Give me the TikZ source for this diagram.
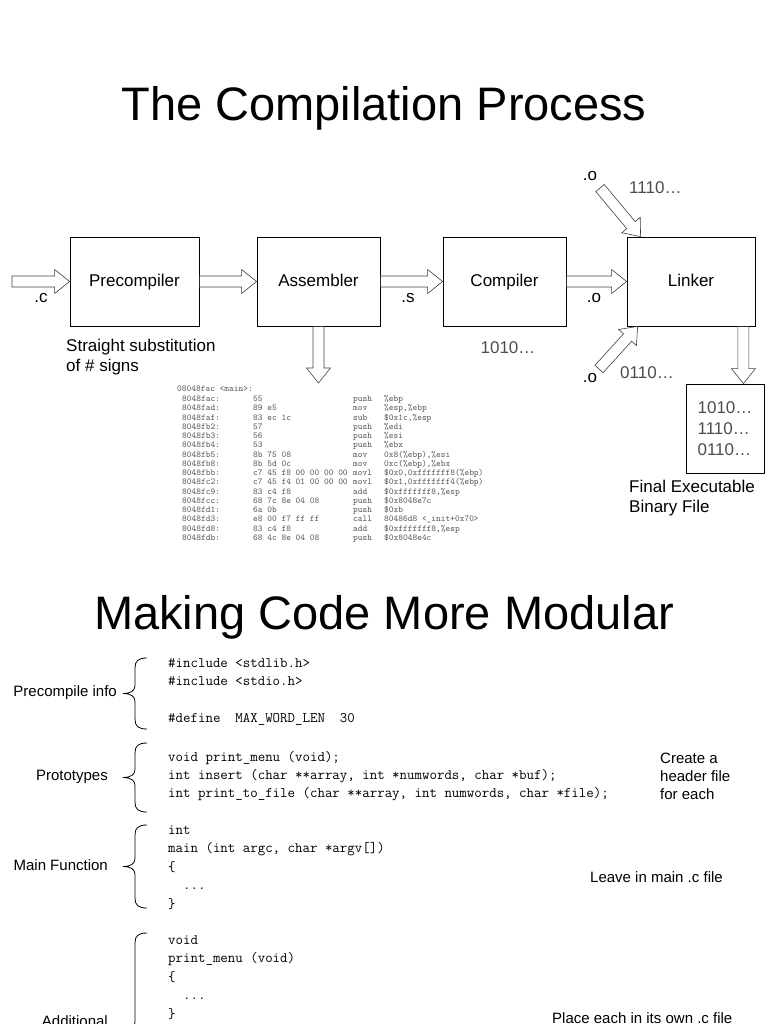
\documentclass[tikz,border=0pt]{standalone}
\usepackage{fontspec}
\setmainfont{Liberation Sans}
\usetikzlibrary{calc}
\tikzset{
  stage/.style={draw, line width=0.8pt, inner sep=0pt, minimum height=89pt,
    text height=12.5pt, text depth=3.5pt, font=\fontsize{17}{20}\selectfont},
  outbox/.style={draw, line width=0.8pt, inner sep=0pt, minimum height=89pt,
    minimum width=78pt, align=left, text=black!70, font=\fontsize{17}{21}\selectfont},
  blockarr/.style={draw=black!75, line width=0.6pt},
  lbl/.style={inner sep=0pt, align=left, font=\fontsize{17}{20.5}\selectfont},
  bits/.style={lbl, text=black!70},
  heading/.style={inner sep=0pt, font=\fontsize{47}{56}\selectfont},
  note/.style={inner sep=0pt, align=left, font=\fontsize{15}{18}\selectfont},
  asmtxt/.style={inner sep=0pt, anchor=base west, text=black!65,
    font=\ttfamily\fontsize{9}{9}\selectfont},
  code/.style={inner sep=0pt, anchor=base west, align=left,
    font=\ttfamily\fontsize{14.5}{18.4}\selectfont},
  brline/.style={line width=0.8pt},
}
% hollow block arrow from #1 to #2
\newcommand{\blockarrow}[2]{%
  \coordinate (ba-base) at ($(#2)!15pt!(#1)$);
  \draw[blockarr] ($(#1)!5.5pt!90:(#2)$) -- ($(ba-base)!5.5pt!-90:(#1)$)
    -- ($(ba-base)!12pt!-90:(#1)$) -- (#2) -- ($(ba-base)!12pt!90:(#1)$)
    -- ($(ba-base)!5.5pt!90:(#1)$) -- ($(#1)!5.5pt!-90:(#2)$) -- cycle;}
% curly brace in front of a code block, top y and bottom y
\newcommand{\codebrace}[2]{%
  \pgfmathsetmacro{\brmid}{(#1+#2)/2}
  \draw[brline] (147,#1) .. controls (138,#1) and (135,{#1+3}) .. (135,{#1+10})
    -- (135,{\brmid-8}) .. controls (135,{\brmid-3}) and (131,\brmid) .. (123,\brmid)
    .. controls (131,\brmid) and (135,{\brmid+3}) .. (135,{\brmid+8})
    -- (135,{#2-10}) .. controls (135,{#2-3}) and (138,#2) .. (147,#2);}

\begin{document}
\begin{tikzpicture}[x=1pt,y=-1pt]
  \useasboundingbox (0,0) rectangle (768,1024);
  \clip (0,0) rectangle (768,1024);

  \node[heading] (title1) at (384,108) {The Compilation Process};

  % stages
  \node[stage, minimum width=129pt] (pre) at (134.5,281.5) {Precompiler};
  \node[stage, minimum width=123pt] (asm) at (318.5,281.5) {Assembler};
  \node[stage, minimum width=123pt] (comp) at (504.5,281.5) {Compiler};
  \node[stage, minimum width=128pt] (link) at (691,281.5) {Linker};
  \node[outbox] (exe) at (725,428.5) {1010…\\1110…\\0110…};

  \coordinate (cin) at (12,281.5);
  \coordinate (asmout) at (318.5,383);
  \coordinate (otop) at (600,188);
  \coordinate (otoptip) at ($(link.north west)+(14,0)$);
  \coordinate (obot) at (599,369);
  \coordinate (obottip) at ($(link.south west)+(11,0)$);
  \coordinate (lout) at ($(link.south east)+(-12,0)$);
  \coordinate (louttip) at (lout |- exe.north);

  \blockarrow{cin}{pre.west}
  \blockarrow{pre.east}{asm.west}
  \blockarrow{asm.east}{comp.west}
  \blockarrow{comp.east}{link.west}
  \blockarrow{asm.south}{asmout}
  \blockarrow{otop}{otoptip}
  \blockarrow{obot}{obottip}
  \blockarrow{lout}{louttip}

  \node[lbl] (ext-c) at (41,298) {.c};
  \node[lbl] (ext-s) at (408,298) {.s};
  \node[lbl] (ext-o) at (594,298) {.o};
  \node[lbl] (ext-o1) at (590,176) {.o};
  \node[lbl] (ext-o2) at (590,378) {.o};
  \node[bits, anchor=west] (bits1) at (629,188) {1110…};
  \node[bits, anchor=west] (bits2) at (620,373) {0110…};
  \node[bits] (bits0) at (508,348) {1010…};
  \node[lbl, anchor=west] (subst) at (66,357) {Straight substitution\\of \# signs};
  \node[lbl, anchor=west] (final) at (629,498) {Final Executable\\Binary File};

  % disassembly
  \node[asmtxt] (asm-head) at (177,391.5) {08048fac <main>:};
  \foreach \addr/\hex/\mnem/\oper [count=\i] in {
    8048fac:/55/push/\%ebp,
    8048fad:/89 e5/mov/{\%esp,\%ebp},
    8048faf:/83 ec 1c/sub/{\$0x1c,\%esp},
    8048fb2:/57/push/\%edi,
    8048fb3:/56/push/\%esi,
    8048fb4:/53/push/\%ebx,
    8048fb5:/8b 75 08/mov/{0x8(\%ebp),\%esi},
    8048fb8:/8b 5d 0c/mov/{0xc(\%ebp),\%ebx},
    8048fbb:/c7 45 f8 00 00 00 00/movl/{\$0x0,0xfffffff8(\%ebp)},
    8048fc2:/c7 45 f4 01 00 00 00/movl/{\$0x1,0xfffffff4(\%ebp)},
    8048fc9:/83 c4 f8/add/{\$0xfffffff8,\%esp},
    8048fcc:/68 7c 8e 04 08/push/\$0x8048e7c,
    8048fd1:/6a 0b/push/\$0xb,
    8048fd3:/e8 00 f7 ff ff/call/80486d8 <\_init+0x70>,
    8048fd8:/83 c4 f8/add/{\$0xfffffff8,\%esp},
    8048fdb:/68 4c 8e 04 08/push/\$0x8048e4c}{
    \node[asmtxt] (asm-a\i) at (182,{401.5+9.25*(\i-1)}) {\addr};
    \node[asmtxt] (asm-b\i) at (253,{401.5+9.25*(\i-1)}) {\hex};
    \node[asmtxt] (asm-c\i) at (353,{401.5+9.25*(\i-1)}) {\mnem};
    \node[asmtxt] (asm-d\i) at (384,{401.5+9.25*(\i-1)}) {\oper};
  }

  \node[heading] (title2) at (384,617) {Making Code More Modular};

  % code blocks (anchored at the baseline of their last line)
  \node[code] (incl) at (168,722.3) {\#include <stdlib.h>\\\#include <stdio.h>\\[18.5pt]\#define~~MAX\_WORD\_LEN~~30};
  \node[code] (proto) at (168,797.8) {void print\_menu (void);\\int insert (char **array, int *numwords, char *buf);\\int print\_to\_file (char **array, int numwords, char *file);};
  \node[code] (mainfn) at (168,908.1) {int\\main (int argc, char *argv[])\\\{\\~~...\\\}};
  \node[code] (morefn) at (168,1018.1) {void\\print\_menu (void)\\\{\\~~...\\\}};

  \codebrace{658}{729}
  \codebrace{743}{812}
  \codebrace{825}{908}
  \codebrace{933}{1127}

  \node[note, anchor=east] (n-pre) at (117,693) {Precompile info};
  \node[note, anchor=east] (n-proto) at (108,777) {Prototypes};
  \node[note, anchor=east] (n-main) at (108,865) {Main Function};
  \node[note, anchor=base east] (n-more) at (108,1026) {Additional};
  \node[note, anchor=west] (n-header) at (660,776) {Create a\\header file\\for each};
  \node[note, anchor=west] (n-leave) at (590,877) {Leave in main .c file};
  \node[note, anchor=west] (n-place) at (552,1018) {Place each in its own .c file};
\end{tikzpicture}
\end{document}
